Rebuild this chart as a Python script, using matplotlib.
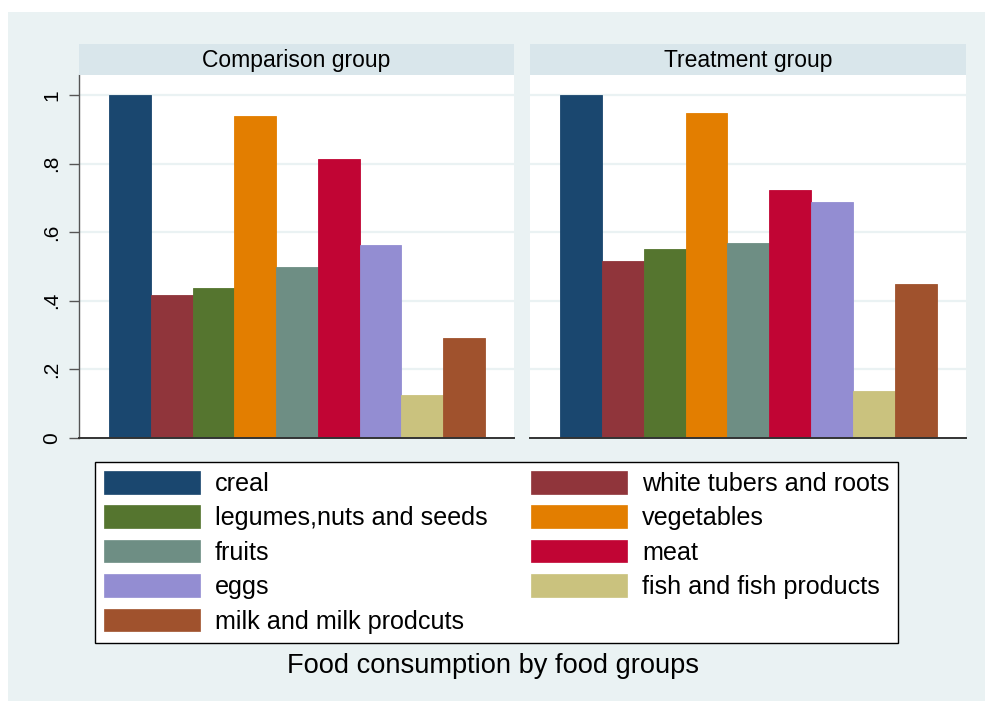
import matplotlib
matplotlib.use("Agg")
import matplotlib.pyplot as plt
from matplotlib.patches import Rectangle, Patch
import numpy as np

plt.rcParams['font.family'] = ['Liberation Sans', 'DejaVu Sans']

# Share of households consuming each food group
food_groups = [
    "creal", "white tubers and roots", "legumes,nuts and seeds", "vegetables",
    "fruits", "meat", "eggs", "fish and fish products", "milk and milk prodcuts",
]
comparison = [1.0, 0.417, 0.437, 0.939, 0.499, 0.813, 0.563, 0.125, 0.292]
treatment = [1.0, 0.517, 0.552, 0.948, 0.569, 0.723, 0.689, 0.137, 0.448]
panel_titles = ["Comparison group", "Treatment group"]
y_ticks = [0, 0.2, 0.4, 0.6, 0.8, 1.0]
y_tick_labels = ["0", ".2", ".4", ".6", ".8", "1"]
chart_title = "Food consumption by food groups"

colors = ["#1a476f", "#90353b", "#55752f", "#e37e00", "#6e8e84",
          "#c10534", "#938dd2", "#cac27e", "#a0522d"]

W, H = 985, 701
fig = plt.figure(figsize=(W / 100, H / 100), dpi=100, facecolor="white")

BG = "#eaf2f3"
STRIP = "#d9e6eb"
fig.patches.append(Rectangle((8 / W, 0), 1 - 8 / W, 1 - 12 / H,
                             transform=fig.transFigure, facecolor=BG,
                             edgecolor="none", zorder=-10))


def fx(px):
    return px / W


def fy(py):
    return 1 - py / H


panel_x = [(79, 514), (530, 966)]
plot_top, plot_bot, strip_top = 75, 438, 44
x = np.arange(len(food_groups))

for i, (vals, title) in enumerate(zip([comparison, treatment], panel_titles)):
    x0, x1 = panel_x[i]
    ax = fig.add_axes([fx(x0), fy(plot_bot), fx(x1 - x0), (plot_bot - plot_top) / H])
    ax.set_facecolor("white")
    ax.bar(x, vals, width=1.0, color=colors, edgecolor=colors, linewidth=0.6, zorder=3)
    ax.set_xlim(-1.22, 9.2)
    ax.set_ylim(0, 1.0583)
    ax.set_yticks(y_ticks)
    for yv in y_ticks[1:]:
        ax.axhline(yv, color=BG, lw=1.6, zorder=1)
    ax.set_xticks([])
    for s in ["top", "right"]:
        ax.spines[s].set_visible(False)
    ax.spines["bottom"].set_color("#333333")
    ax.spines["bottom"].set_linewidth(1.4)
    ax.spines["bottom"].set_zorder(4)
    if i == 0:
        ax.spines["left"].set_color("#555555")
        ax.spines["left"].set_linewidth(1.0)
        ax.set_yticklabels(y_tick_labels, rotation=90, va="center", fontsize=15)
        ax.tick_params(axis="y", length=7, width=1.0, color="#555555", pad=6)
    else:
        ax.spines["left"].set_visible(False)
        ax.tick_params(axis="y", length=0, labelleft=False)

    # panel header strip
    sax = fig.add_axes([fx(x0), fy(plot_top), fx(x1 - x0), (plot_top - strip_top) / H])
    sax.set_facecolor(STRIP)
    sax.set_xticks([])
    sax.set_yticks([])
    for s in sax.spines.values():
        s.set_visible(False)
    sax.text(0.5, 0.48, title, ha="center", va="center", fontsize=16.5,
             transform=sax.transAxes)

# legend, filled row by row across two columns
handles = [Patch(facecolor=c, edgecolor=c, linewidth=0.5) for c in colors]
order = [0, 2, 4, 6, 8, 1, 3, 5, 7]
leg = fig.legend([handles[k] for k in order], [food_groups[k] for k in order],
                 ncol=2, loc="upper left", bbox_to_anchor=(fx(95), fy(462)),
                 fontsize=18.1, frameon=True, fancybox=False, framealpha=1,
                 edgecolor="black", handlelength=3.8, handleheight=1.0,
                 handletextpad=0.6, columnspacing=1.75, labelspacing=0.38,
                 borderpad=0.36, borderaxespad=0)
leg.get_frame().set_linewidth(1.0)

fig.text(fx(493), fy(666), chart_title, ha="center", va="center", fontsize=19.6)

fig.savefig("out.png", dpi=100, facecolor=fig.get_facecolor())
